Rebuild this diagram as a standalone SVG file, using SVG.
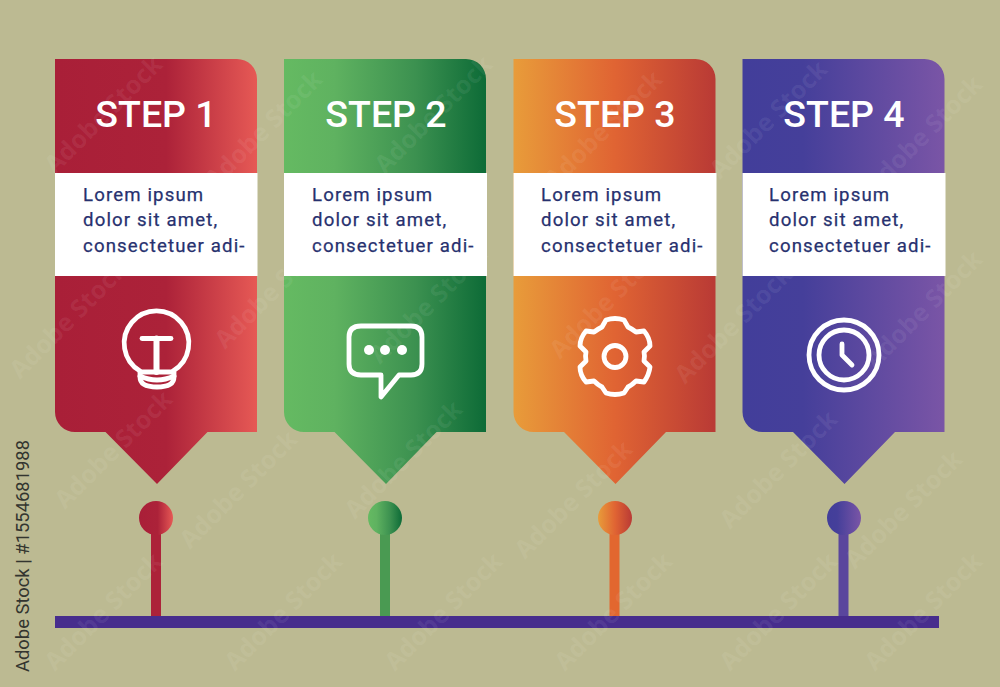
<svg xmlns="http://www.w3.org/2000/svg" xmlns:xlink="http://www.w3.org/1999/xlink" width="1000" height="687" viewBox="0 0 1000 687">
<style>
.head{font:500 37.5px Roboto,"Liberation Sans",sans-serif;fill:#fff;text-anchor:middle}
.body{font:400 18.6px Roboto,"Liberation Sans",sans-serif;fill:#27316f;letter-spacing:1.15px;stroke:#27316f;stroke-width:.25}
.band{fill:#fff}
.ic{fill:none;stroke:#fff;stroke-width:4.8;stroke-linecap:round;stroke-linejoin:round}
.dot{fill:#fff}
.wm{font:700 25px "Open Sans",Roboto,sans-serif;fill:#fff;fill-opacity:.075}
.id{font:400 18.4px Roboto,"Liberation Sans",sans-serif;fill:#33352f}
</style>
<defs>
<linearGradient id="g1"><stop offset="0" stop-color="#a91f38"/><stop offset=".55" stop-color="#ac2239"/><stop offset="1" stop-color="#e65955"/></linearGradient>
<linearGradient id="g2"><stop offset="0" stop-color="#65ba62"/><stop offset=".25" stop-color="#5fb260"/><stop offset=".65" stop-color="#3c9150"/><stop offset="1" stop-color="#0d6b37"/></linearGradient>
<linearGradient id="g3"><stop offset="0" stop-color="#e89c3a"/><stop offset=".5" stop-color="#e06433"/><stop offset="1" stop-color="#b93a35"/></linearGradient>
<linearGradient id="g4"><stop offset="0" stop-color="#423e9a"/><stop offset=".3" stop-color="#453f9a"/><stop offset="1" stop-color="#7a55a6"/></linearGradient>
<path id="card" d="M0 59H182A20 20 0 0 1 202 79V432H152.500L102 484L50.500 432H20A20 20 0 0 1 0 412Z"/>
</defs>
<rect width="1000" height="687" fill="#bcba92"/>
<g id="connectors">
<rect x="151" y="520" width="10" height="97" fill="#ac2239"/>
<rect x="380" y="520" width="10" height="97" fill="#4a9a52"/>
<rect x="609.500" y="520" width="10" height="97" fill="#e2672f"/>
<rect x="838.500" y="520" width="10" height="97" fill="#5a469d"/>
<rect id="baseline" x="55" y="616" width="884" height="12" fill="#472d8d"/>
</g>
<g id="step1">
<use xlink:href="#card" x="55" fill="url(#g1)"/>
<rect class="band" x="55" y="173" width="202.500" height="103"/>
<text class="head" x="156" y="127">STEP 1</text>
<text class="body" x="83" y="201">Lorem ipsum</text><text class="body" x="83" y="226">dolor sit amet,</text><text class="body" x="83" y="252">consectetuer adi-</text>
<g class="ic"><path d="M140 371A32.300 32.300 0 1 1 173 371"/><path d="M142 338.500H171"/><path d="M156.500 338.500V372" stroke-width="6"/><path d="M140 372H174V377Q174 387 157 387Q140 387 140 377Z"/><path d="M140 376Q157 384 174 376"/></g>
<circle cx="156" cy="518" r="17" fill="url(#g1)"/>
</g>
<g id="step2">
<use xlink:href="#card" x="284" fill="url(#g2)"/>
<rect class="band" x="284" y="173" width="203" height="103"/>
<text class="head" x="386" y="127">STEP 2</text>
<text class="body" x="312" y="201">Lorem ipsum</text><text class="body" x="312" y="226">dolor sit amet,</text><text class="body" x="312" y="252">consectetuer adi-</text>
<path class="ic" d="M361 326H411Q422 326 422 337V364Q422 375 411 375H399L381 397V375H361Q349 375 349 364V337Q349 326 361 326Z"/>
<circle class="dot" cx="369" cy="350" r="5"/><circle class="dot" cx="385" cy="350" r="5"/><circle class="dot" cx="402" cy="350" r="5"/>
<circle cx="385" cy="518" r="17" fill="url(#g2)"/>
</g>
<g id="step3">
<use xlink:href="#card" x="513.500" fill="url(#g3)"/>
<rect class="band" x="513.500" y="173" width="203" height="103"/>
<text class="head" x="615" y="127">STEP 3</text>
<text class="body" x="541" y="201">Lorem ipsum</text><text class="body" x="541" y="226">dolor sit amet,</text><text class="body" x="541" y="252">consectetuer adi-</text>
<g class="ic"><path d="M606 320Q615 317 624 320L628 327Q632 329 636 332L644 331Q650 338 650 346L644 352Q645 356 644 361L650 367Q649 375 644 382L636 381Q632 385 628 387L624 393Q615 396 606 393L602 387Q598 385 594 381L586 382Q580 375 580 367L586 361Q585 356 586 352L580 346Q580 338 586 331L594 332Q598 329 602 327Z"/><circle cx="615" cy="356.500" r="11"/></g>
<circle cx="615" cy="518" r="17" fill="url(#g3)"/>
</g>
<g id="step4">
<use xlink:href="#card" x="742.500" fill="url(#g4)"/>
<rect class="band" x="742.500" y="173" width="203" height="103"/>
<text class="head" x="844" y="127">STEP 4</text>
<text class="body" x="769" y="201">Lorem ipsum</text><text class="body" x="769" y="226">dolor sit amet,</text><text class="body" x="769" y="252">consectetuer adi-</text>
<g class="ic"><circle cx="844" cy="355" r="35"/><circle cx="844" cy="355" r="25"/><path d="M842 344V355L852 365"/></g>
<circle cx="844" cy="518" r="17" fill="url(#g4)"/>
</g>
<text class="id" transform="translate(29 672) rotate(-90)">Adobe Stock | #1554681988</text>
<g id="watermarks">
<text class="wm" transform="translate(55 175) rotate(-45)">Adobe Stock</text>
<text class="wm" transform="translate(215 190) rotate(-45)">Adobe Stock</text>
<text class="wm" transform="translate(385 175) rotate(-45)">Adobe Stock</text>
<text class="wm" transform="translate(555 190) rotate(-45)">Adobe Stock</text>
<text class="wm" transform="translate(720 180) rotate(-45)">Adobe Stock</text>
<text class="wm" transform="translate(875 195) rotate(-45)">Adobe Stock</text>
<text class="wm" transform="translate(20 380) rotate(-45)">Adobe Stock</text>
<text class="wm" transform="translate(225 350) rotate(-45)">Adobe Stock</text>
<text class="wm" transform="translate(380 365) rotate(-45)">Adobe Stock</text>
<text class="wm" transform="translate(560 360) rotate(-45)">Adobe Stock</text>
<text class="wm" transform="translate(685 385) rotate(-45)">Adobe Stock</text>
<text class="wm" transform="translate(875 370) rotate(-45)">Adobe Stock</text>
<text class="wm" transform="translate(65 510) rotate(-45)">Adobe Stock</text>
<text class="wm" transform="translate(190 550) rotate(-45)">Adobe Stock</text>
<text class="wm" transform="translate(355 520) rotate(-45)">Adobe Stock</text>
<text class="wm" transform="translate(525 560) rotate(-45)">Adobe Stock</text>
<text class="wm" transform="translate(730 530) rotate(-45)">Adobe Stock</text>
<text class="wm" transform="translate(855 570) rotate(-45)">Adobe Stock</text>
<text class="wm" transform="translate(55 672) rotate(-45)">Adobe Stock</text>
<text class="wm" transform="translate(235 672) rotate(-45)">Adobe Stock</text>
<text class="wm" transform="translate(395 672) rotate(-45)">Adobe Stock</text>
<text class="wm" transform="translate(565 672) rotate(-45)">Adobe Stock</text>
<text class="wm" transform="translate(730 672) rotate(-45)">Adobe Stock</text>
<text class="wm" transform="translate(875 672) rotate(-45)">Adobe Stock</text>
</g>
</svg>
